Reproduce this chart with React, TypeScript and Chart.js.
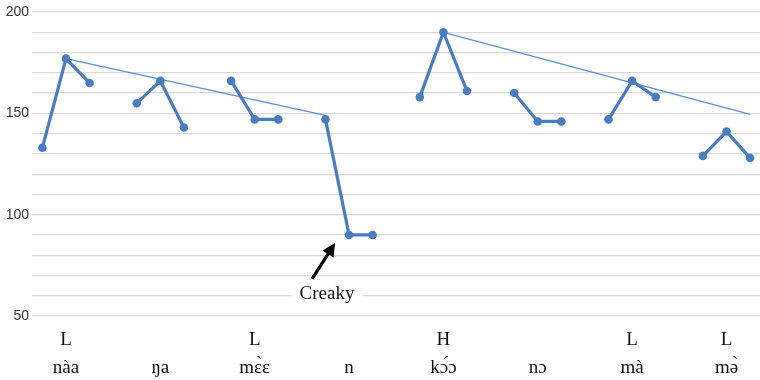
import React, { useEffect, useRef } from "react";
import { Chart, registerables } from "chart.js";

Chart.register(...registerables);

// ---- data ----
const syllables = ["nàa", "ŋa", "mɛ̀ɛ", "n", "kɔ́ɔ", "nɔ", "mà", "mə̀"];
const tones = ["L", "", "L", "", "H", "", "L", "L"];
const pitch: number[][] = [
  [133, 177, 165],
  [155, 166, 143],
  [166, 147, 147],
  [147, 90, 90],
  [158, 190, 161],
  [160, 146, 146],
  [147, 166, 158],
  [129, 141, 128],
];
// declination lines: [group, point] anchors and their values
const trendAnchorsA = [[0, 1], [3, 0]];
const trendValuesA = [177, 149];
const trendAnchorsB = [[4, 1], [7, 2]];
const trendValuesB = [190, 149.5];
const yLabels = [50, 100, 150, 200];
const creakyLabel = "Creaky";
const creakyTarget = [3, 1];

const SLOT = 4; // three points + one gap per syllable
const slot = (g: number, k: number) => g * SLOT + k;

const BLUE = "#4A7DC0";

const mainData: ({ x: number; y: number | null })[] = [];
pitch.forEach((vals, g) => {
  vals.forEach((v, k) => mainData.push({ x: slot(g, k), y: v }));
  if (g < pitch.length - 1) mainData.push({ x: slot(g, 3), y: null });
});

const trendA = trendAnchorsA.map((a, i) => ({ x: slot(a[0], a[1]), y: trendValuesA[i] }));
const trendB = trendAnchorsB.map((a, i) => ({ x: slot(a[0], a[1]), y: trendValuesB[i] }));
const tickSlots = syllables.map((_, g) => slot(g, 1));

const creakyPlugin = {
  id: "creaky",
  afterDatasetsDraw(chart: any) {
    const { ctx, scales } = chart;
    const g = creakyTarget[0], k = creakyTarget[1];
    const px = scales.x.getPixelForValue(slot(g, k));
    const py = scales.y.getPixelForValue(pitch[g][k]);
    const tip = [px - 14, py + 8];
    const tail = [px - 37, py + 44];
    ctx.save();
    ctx.font = '19px "Liberation Serif", "Times New Roman", serif';
    const tw = ctx.measureText(creakyLabel).width;
    const tx = px - 22, ty = py + 59;
    ctx.fillStyle = "#ffffff";
    ctx.fillRect(tx - tw / 2 - 8, ty - 11, tw + 16, 22);
    ctx.fillStyle = "#111111";
    ctx.textAlign = "center";
    ctx.textBaseline = "middle";
    ctx.fillText(creakyLabel, tx, ty);
    const dx = tip[0] - tail[0], dy = tip[1] - tail[1];
    const len = Math.hypot(dx, dy);
    const ux = dx / len, uy = dy / len;
    const head = 13, hw = 6.5;
    const bx = tip[0] - ux * head, by = tip[1] - uy * head;
    ctx.strokeStyle = "#000000";
    ctx.lineWidth = 3.2;
    ctx.beginPath();
    ctx.moveTo(tail[0], tail[1]);
    ctx.lineTo(bx + ux * 1, by + uy * 1);
    ctx.stroke();
    ctx.fillStyle = "#000000";
    ctx.beginPath();
    ctx.moveTo(tip[0], tip[1]);
    ctx.lineTo(bx - uy * hw, by + ux * hw);
    ctx.lineTo(bx + uy * hw, by - ux * hw);
    ctx.closePath();
    ctx.fill();
    ctx.restore();
  },
};

export default function App() {
  const ref = useRef<HTMLCanvasElement | null>(null);
  useEffect(() => {
    if (!ref.current) return;
    const chart = new Chart(ref.current, {
      type: "line",
      data: {
        datasets: [
          {
            data: mainData as any,
            borderColor: BLUE,
            backgroundColor: BLUE,
            borderWidth: 3.2,
            pointRadius: 4.3,
            pointBackgroundColor: BLUE,
            pointBorderColor: BLUE,
            pointBorderWidth: 0,
            spanGaps: false,
            tension: 0,
          },
          {
            data: trendA as any,
            borderColor: "#5B8ED4",
            borderWidth: 1.3,
            pointRadius: 0,
          },
          {
            data: trendB as any,
            borderColor: "#5B8ED4",
            borderWidth: 1.3,
            pointRadius: 0,
          },
        ],
      },
      options: {
        animation: false,
        responsive: false,
        maintainAspectRatio: false,
        layout: { autoPadding: false, padding: { top: 12, left: 0, right: 0, bottom: 0 } },
        plugins: { legend: { display: false }, tooltip: { enabled: false } },
        scales: {
          x: {
            type: "linear",
            min: -0.44,
            max: 30.42,
            grid: { display: false },
            border: { display: false },
            afterBuildTicks: (s: any) => {
              s.ticks = tickSlots.map((v) => ({ value: v }));
            },
            afterFit: (s: any) => {
              s.height = 64;
              s.paddingLeft = 0;
              s.paddingRight = 0;
            },
            ticks: {
              autoSkip: false,
              maxRotation: 0,
              padding: 2,
              color: "#111111",
              font: { family: '"Liberation Serif", "Times New Roman", serif', size: 19, lineHeight: 1.47 },
              callback: (_v: any, i: number) => [tones[i], syllables[i]],
            },
          },
          y: {
            min: 50,
            max: 200,
            grid: { color: "#D9D9D9", lineWidth: 1.2, drawTicks: false },
            border: { display: false },
            afterFit: (s: any) => {
              s.width = 32;
            },
            ticks: {
              stepSize: 10,
              autoSkip: false,
              padding: 3,
              color: "#333333",
              font: { family: '"Liberation Sans", Arial, sans-serif', size: 14 },
              callback: (v: any) => (yLabels.includes(Number(v)) ? String(v) : ""),
            },
          },
        },
      },
      plugins: [creakyPlugin],
    });
    return () => chart.destroy();
  }, []);
  return (
    <div style={{ position: "fixed", left: 0, top: 0, width: 760, height: 380, background: "#fff" }}>
      <canvas ref={ref} width={760} height={380} style={{ width: 760, height: 380, display: "block" }} />
    </div>
  );
}
